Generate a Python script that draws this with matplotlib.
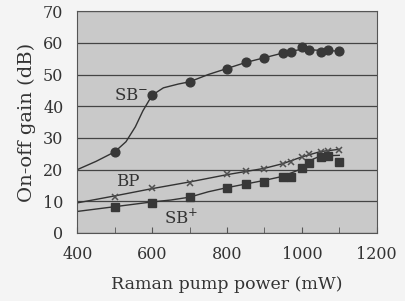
import matplotlib.pyplot as plt

# measured points
power = [500, 600, 700, 800, 850, 900, 950, 970, 1000, 1020, 1050, 1070, 1100]
sb_minus = [25.6, 43.5, 47.7, 51.7, 54.0, 55.1, 56.9, 57.2, 58.8, 57.7, 57.0, 57.7, 57.4]
bp = [11.5, 14.1, 15.9, 18.6, 19.7, 20.2, 21.7, 22.3, 24.1, 24.9, 25.6, 25.9, 26.2]
sb_plus = [8.1, 9.6, 11.5, 14.1, 15.4, 16.2, 17.6, 17.8, 20.4, 22.0, 24.1, 24.3, 22.5]

# fitted trend curves
sbm_fit_x = [400, 450, 500, 530, 555, 575, 600, 630, 670, 700, 750, 800, 850, 900, 950, 1000, 1050, 1100]
sbm_fit_y = [20.0, 22.6, 25.6, 28.8, 33.5, 38.5, 43.5, 45.8, 47.0, 47.7, 50.0, 51.9, 53.8, 55.3, 56.8, 58.0, 57.6, 57.4]
bp_fit_x = [400, 500, 600, 700, 800, 900, 950, 1000, 1050, 1100]
bp_fit_y = [9.5, 11.7, 14.0, 16.1, 18.4, 20.4, 21.9, 24.0, 25.7, 26.4]
sbp_fit_x = [400, 500, 600, 650, 700, 750, 800, 900, 950, 1000, 1030, 1050, 1100]
sbp_fit_y = [6.8, 8.3, 9.8, 10.4, 11.3, 13.0, 14.3, 16.6, 17.9, 20.3, 23.3, 24.3, 24.5]

xticks = [400, 600, 800, 1000, 1200]
yticks = [0, 10, 20, 30, 40, 50, 60, 70]

plt.rcParams['font.family'] = ['DejaVu Serif']

fig = plt.figure(figsize=(4.05, 3.01), dpi=100, facecolor='#f4f4f4')
ax = fig.add_axes([0.191, 0.226, 0.739, 0.737])
ax.set_facecolor('#c9c9c9')

ax.plot(sbm_fit_x, sbm_fit_y, color='#333333', lw=1.0)
ax.plot(bp_fit_x, bp_fit_y, color='#333333', lw=1.0)
ax.plot(sbp_fit_x, sbp_fit_y, color='#333333', lw=1.0)

ax.plot(power, sb_minus, 'o', color='#383838', ms=6.3, ls='none')
ax.plot(power, bp, 'x', color='#505050', ms=5, mew=1.1, ls='none')
ax.plot(power, sb_plus, 's', color='#383838', ms=5.8, ls='none')

ax.text(545, 43.5, 'SB$^{-}$', fontsize=12, ha='center', va='center', color='#333333')
ax.text(535, 16.2, 'BP', fontsize=12, ha='center', va='center', color='#333333')
ax.text(678, 4.8, 'SB$^{+}$', fontsize=12, ha='center', va='center', color='#333333')

ax.set_xlim(400, 1200)
ax.set_ylim(0, 70)
ax.set_xticks(xticks)
ax.set_xticks(range(400, 1200, 100), minor=True)
ax.set_yticks(yticks)
ax.grid(axis='y', color='#444444', lw=0.9)
ax.set_axisbelow(True)
ax.tick_params(axis='x', which='both', direction='in', length=4, color='#555555',
               labelsize=11.5, pad=9.5, labelcolor='#333333')
ax.tick_params(axis='y', length=0, labelsize=11.5, pad=10, labelcolor='#333333')
for s in ax.spines.values():
    s.set_color('#555555')
    s.set_linewidth(0.8)

ax.set_xlabel('Raman pump power (mW)', fontsize=12.5, labelpad=9, color='#333333')
ax.set_ylabel('On-off gain (dB)', fontsize=14, labelpad=5, color='#333333')

fig.savefig('out.png', dpi=100, facecolor=fig.get_facecolor())
